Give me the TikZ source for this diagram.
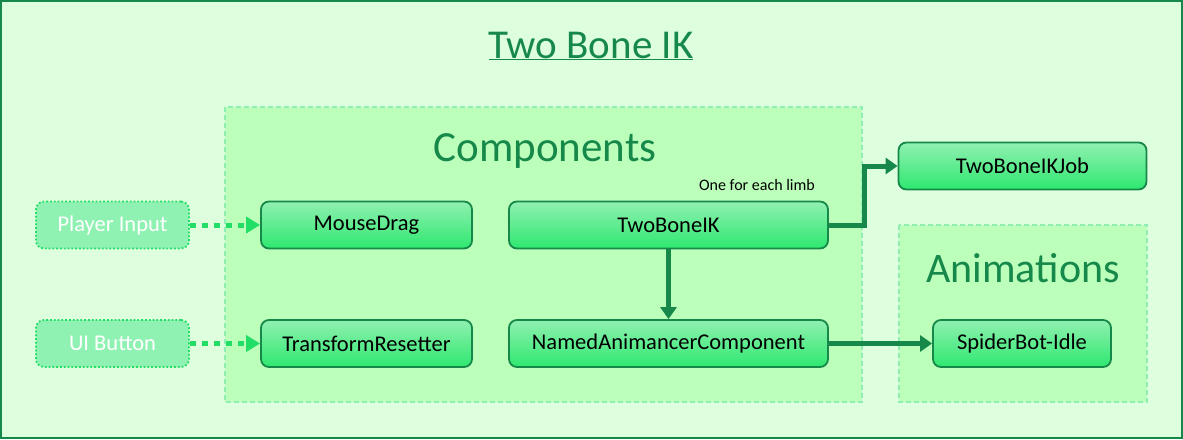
\documentclass[tikz,border=0pt]{standalone}
\usepackage{fontspec}
\setmainfont{Carlito}
\usetikzlibrary{arrows.meta,shadings}
\definecolor{bgc}{HTML}{DDFFDD}
\definecolor{dkg}{HTML}{16884A}
\definecolor{grpfill}{HTML}{BBFFBB}
\definecolor{grpline}{HTML}{8EEEB4}
\definecolor{ntop}{HTML}{90F0B0}
\definecolor{nbot}{HTML}{2EE870}
\definecolor{inpfill}{HTML}{90F2B2}
\definecolor{inpline}{HTML}{22DD66}
\tikzset{
  x=1pt,y=-1pt,
  comp/.style={draw=dkg,line width=1.8pt,rounded corners=8pt,top color=ntop,bottom color=nbot,
    minimum height=47pt,inner sep=0pt,font=\fontsize{22.5}{24}\selectfont,text=black},
  inp/.style={draw=inpline,line width=1.8pt,dotted,rounded corners=8pt,fill=inpfill,
    minimum height=47pt,minimum width=153pt,inner sep=0pt,font=\fontsize{22.5}{24}\selectfont,text=white},
  grp/.style={draw=grpline,fill=grpfill,line width=1.3pt,dash pattern=on 5pt off 3pt},
  solidarr/.style={draw=dkg,line width=5pt,-{Triangle[length=12pt,width=16pt]}},
  dotarr/.style={draw=inpline,line width=5pt,dash pattern=on 6pt off 6pt,-{Triangle[length=14pt,width=16pt]}},
}
\begin{document}
\begin{tikzpicture}
\useasboundingbox (0,0) rectangle (1183,439);
\draw[draw=dkg,fill=bgc,line width=2.4pt] (1.2,1.2) rectangle (1181.8,437.8);
\node[text=dkg,font=\fontsize{41}{44}\selectfont] (title) at (591,46) {\underline{Two Bone IK}};
\path[grp] (225,107) rectangle (862,402);
\path[grp] (899,225) rectangle (1147,402);
\node[text=dkg,font=\fontsize{43}{46}\selectfont] (compt) at (545,151) {Components};
\node[text=dkg,font=\fontsize{42}{45}\selectfont] (animt) at (1023,268) {Animations};
\node[inp] (pi) at (112.5,225) {Player Input};
\node[inp] (ui) at (112.5,343.5) {UI Button};
\node[comp,minimum width=211pt] (md) at (366.5,225) {MouseDrag};
\node[comp,minimum width=211pt] (tr) at (366.5,343.5) {TransformResetter};
\node[comp,minimum width=319pt] (tb) at (668.5,225) {TwoBoneIK};
\node[comp,minimum width=319pt] (na) at (668.5,343.5) {NamedAnimancerComponent};
\node[comp,minimum width=248pt] (job) at (1022.5,166) {TwoBoneIKJob};
\node[comp,minimum width=178pt] (sb) at (1022,343.5) {SpiderBot-Idle};
\node[font=\fontsize{16}{18}\selectfont,text=black] (lbl) at (757,185) {One for each limb};
\draw[dotarr] (pi.east) -- (md.west);
\draw[dotarr] (ui.east) -- (tr.west);
\draw[solidarr] (tb.south) -- (na.north);
\draw[solidarr] (na.east) -- (sb.west);
\draw[solidarr] (tb.east) -- (864,225) -- (864,166) -- (job.west);
\end{tikzpicture}
\end{document}
